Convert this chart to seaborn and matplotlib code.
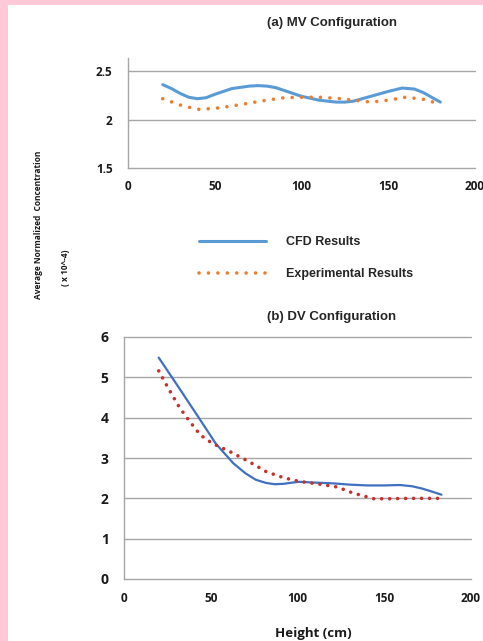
import numpy as np
import pandas as pd
import matplotlib
matplotlib.use('Agg')
import matplotlib.pyplot as plt
from matplotlib.patches import Rectangle
import seaborn as sns

# (a) MV configuration
mv_cfd_h = [20, 25, 30, 35, 40, 45, 50, 60, 70, 75, 80, 85, 90, 100, 110, 120, 125, 130, 140, 150, 158, 165, 170, 175, 180]
mv_cfd_c = [2.36, 2.32, 2.27, 2.23, 2.215, 2.225, 2.26, 2.32, 2.345, 2.35, 2.345, 2.33, 2.30, 2.24, 2.20, 2.18, 2.18, 2.19, 2.24, 2.29, 2.325, 2.315, 2.28, 2.23, 2.18]
mv_exp_h = [20, 30, 40, 50, 60, 70, 80, 90, 100, 110, 120, 130, 140, 150, 160, 170, 180]
mv_exp_c = [2.215, 2.15, 2.105, 2.115, 2.14, 2.17, 2.20, 2.225, 2.23, 2.23, 2.22, 2.20, 2.18, 2.20, 2.23, 2.21, 2.16]

# (b) DV configuration
dv_cfd_h = [20, 32, 44, 53, 63, 70, 76, 82, 87, 92, 97, 101, 110, 121, 130, 140, 150, 159, 166, 172, 178, 183]
dv_cfd_c = [5.49, 4.72, 3.94, 3.35, 2.87, 2.62, 2.46, 2.38, 2.35, 2.36, 2.39, 2.41, 2.39, 2.37, 2.34, 2.32, 2.32, 2.33, 2.30, 2.24, 2.16, 2.09]
dv_exp_h = [20, 25, 32, 38, 44, 51, 61, 72, 82, 92, 101, 113, 123, 132, 144, 153, 165, 182]
dv_exp_c = [5.16, 4.77, 4.25, 3.90, 3.57, 3.36, 3.16, 2.91, 2.66, 2.51, 2.42, 2.35, 2.28, 2.13, 1.99, 1.99, 2.00, 2.00]

labels = ['CFD Results', 'Experimental Results']

W, H = 483, 641
sns.set_style('white')
plt.rcParams['font.family'] = ['Open Sans', 'DejaVu Sans']

fig = plt.figure(figsize=(W / 100, H / 100), dpi=100)
fig.patch.set_facecolor('#FFC9D9')
fig.patches.append(Rectangle((8 / W, 0), 1, 1 - 5 / H, transform=fig.transFigure,
                             facecolor='white', edgecolor='none', zorder=-5))


def px_axes(x0, x1, ytop, ybot):
    return fig.add_axes([x0 / W, 1 - ybot / H, (x1 - x0) / W, (ybot - ytop) / H])


def style_axes(ax, yticks, ysize):
    ax.set_facecolor('none')
    sns.despine(ax=ax)
    for s in ['left', 'bottom']:
        ax.spines[s].set_color('#A6A6A6')
        ax.spines[s].set_linewidth(1)
    ax.set_xlim(0, 200)
    ax.set_xticks([0, 50, 100, 150, 200])
    ax.set_yticks(yticks)
    ax.set_yticklabels([('%g' % t) for t in yticks])
    ax.tick_params(axis='both', length=4, width=1, color='#A6A6A6', labelsize=8.5,
                   labelcolor='#1a1a1a')
    ax.tick_params(axis='x', pad=5)
    ax.tick_params(axis='y', pad=7, labelsize=ysize)
    for lab in ax.get_xticklabels() + ax.get_yticklabels():
        lab.set_fontweight('bold')
    for t in yticks[1:]:
        ax.axhline(t, color='#A6A6A6', lw=1, zorder=0, clip_on=False)
    ax.set_xlabel('')
    ax.set_ylabel('')


# top panel
ax1 = px_axes(128, 475, 58, 168)
top = pd.DataFrame({'h': mv_cfd_h, 'c': mv_cfd_c})
topx = pd.DataFrame({'h': mv_exp_h, 'c': mv_exp_c})
sns.lineplot(data=top, x='h', y='c', ax=ax1, color='#5B9BD5', lw=2.2, label=labels[0])
sns.lineplot(data=topx, x='h', y='c', ax=ax1, color='#ED7D31', lw=2.6,
             linestyle=(0, (0.01, 2.6)), dash_capstyle='round', label=labels[1])
ax1.set_ylim(1.5, 2.635)
style_axes(ax1, [1.5, 2, 2.5], 8.5)
handles, labs = ax1.get_legend_handles_labels()
ax1.get_legend().remove()

# bottom panel
ax2 = px_axes(124, 471, 337, 579)
bot = pd.DataFrame({'h': dv_cfd_h, 'c': dv_cfd_c})
botx = pd.DataFrame({'h': dv_exp_h, 'c': dv_exp_c})
sns.lineplot(data=bot, x='h', y='c', ax=ax2, color='#4070C0', lw=1.6, legend=False)
sns.lineplot(data=botx, x='h', y='c', ax=ax2, color='#C8302C', lw=2.6,
             linestyle=(0, (0.01, 2.2)), dash_capstyle='round', legend=False)
ax2.set_ylim(0, 6)
style_axes(ax2, [0, 1, 2, 3, 4, 5, 6], 10)

# titles and labels
fig.text(332 / W, 1 - 23 / H, '(a) MV Configuration', ha='center', va='center',
         fontsize=9.5, fontweight='bold', family=['Liberation Sans'])
fig.text(332 / W, 1 - 317 / H, '(b) DV Configuration', ha='center', va='center',
         fontsize=9.5, fontweight='bold', family=['Liberation Sans'])
fig.text(313 / W, 1 - 633 / H, 'Height (cm)', ha='center', va='center',
         fontsize=9.5, fontweight='bold', color='#1a1a1a')
fig.text(39 / W, 1 - 225 / H, 'Average Normalized  Concentration', rotation=90,
         ha='center', va='center', fontsize=6.0, fontweight='bold', color='#1a1a1a')
fig.text(66 / W, 1 - 268 / H, '( x 10^-4)', rotation=90,
         ha='center', va='center', fontsize=6.0, fontweight='bold', color='#1a1a1a')

leg = fig.legend(handles, labs, loc='upper left', bbox_to_anchor=(188 / W, 1 - 225 / H),
                 frameon=False, handlelength=5.3, handletextpad=1.6, labelspacing=1.6,
                 prop={'family': 'Liberation Sans', 'weight': 'bold', 'size': 9})

fig.savefig('out.png', dpi=100)
